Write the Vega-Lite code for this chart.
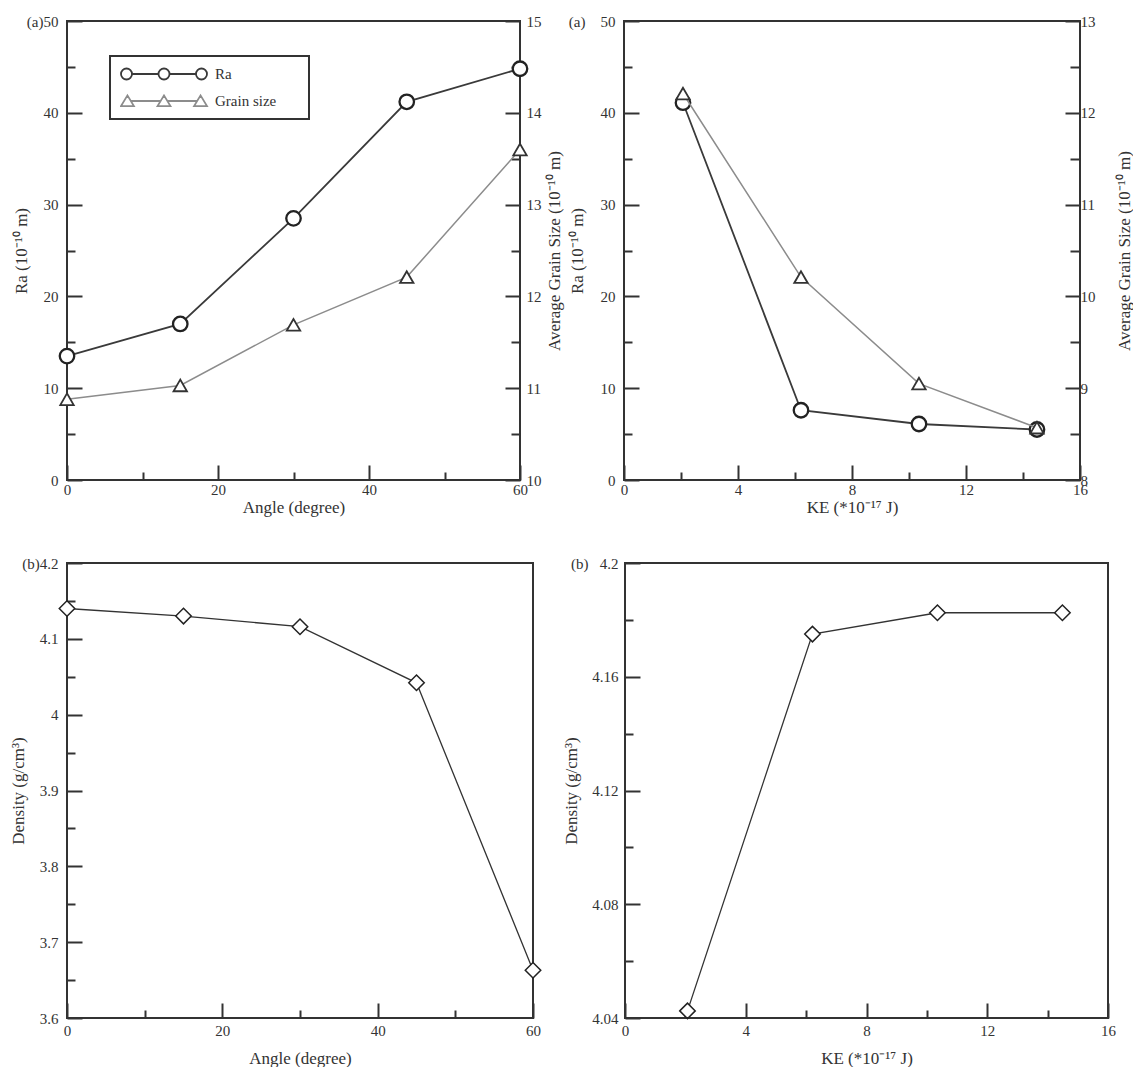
{
  "$schema": "https://vega.github.io/schema/vega-lite/v6.json",
  "background": "white",
  "padding": {"left": 8, "top": 13, "right": 0, "bottom": 0},
  "spacing": 39,
  "config": {
    "view": {"stroke": "#333", "strokeWidth": 2},
    "axis": {
      "domain": false, "grid": false, "zindex": 1,
      "labelFont": "Liberation Serif", "labelFontSize": 15, "labelColor": "#333",
      "titleFont": "Liberation Serif", "titleFontSize": 17, "titleFontWeight": "normal", "titleColor": "#333",
      "tickColor": "#333", "tickWidth": 2, "tickSize": -15,
      "labelOverlap": false, "labelFlush": false, "labelBound": false
    },
    "legend": {
      "title": null, "clipHeight": 16,
      "symbolSize": 7396, "symbolStrokeWidth": 1.8, "symbolStrokeColor": "#333",
      "labelFont": "Liberation Serif", "labelFontSize": 15, "labelColor": "#333", "labelOffset": 7,
      "padding": 10, "rowPadding": 11, "strokeColor": "#333", "fillColor": "white"
    }
  },
  "vconcat": [
    {
      "spacing": 4,
      "hconcat": [
        {
          "width": 453, "height": 459,
          "data": {"values": [
            {"x": 0, "s": "Ra", "v": 13.5}, {"x": 15, "s": "Ra", "v": 17.0}, {"x": 30, "s": "Ra", "v": 28.5}, {"x": 45, "s": "Ra", "v": 41.2}, {"x": 60, "s": "Ra", "v": 44.8},
            {"x": 0, "s": "Grain size", "v": 10.88}, {"x": 15, "s": "Grain size", "v": 11.03}, {"x": 30, "s": "Grain size", "v": 11.69}, {"x": 45, "s": "Grain size", "v": 12.21}, {"x": 60, "s": "Grain size", "v": 13.6}
          ]},
          "resolve": {"scale": {"y": "independent"}, "axis": {"x": "independent", "y": "independent"}},
          "layer": [
            {
              "transform": [{"filter": "datum.s === 'Ra'"}],
              "mark": {"type": "line", "strokeWidth": 1.8},
              "encoding": {
                "x": {"field": "x", "type": "quantitative", "scale": {"domain": [0, 60], "nice": false, "zero": false},
                  "axis": {"orient": "bottom", "title": "Angle (degree)", "values": [0, 20, 40, 60], "labelPadding": 17, "titlePadding": 2}},
                "y": {"field": "v", "type": "quantitative", "scale": {"domain": [0, 50], "nice": false},
                  "axis": {"orient": "left", "title": "Ra (10⁻¹⁰ m)", "values": [0, 10, 20, 30, 40, 50],
                    "labelExpr": "datum.value === 50 ? '(a)50' : format(datum.value, 'd')", "labelPadding": 24, "titlePadding": -4}},
                "color": {"field": "s", "type": "nominal", "scale": {"domain": ["Ra", "Grain size"], "range": ["#3a3a3a", "#8c8c8c"]},
                  "legend": {"orient": "none", "legendX": 43, "legendY": 35,
                    "labelExpr": "datum.label + '\u2800\u2800'",
                    "encode": {
                      "symbols": {"update": {
                        "shape": {"signal": "datum.value === 'Ra' ? 'M -0.744 0 A 0.128 0.128 0 1 0 -1 0 A 0.128 0.128 0 1 0 -0.744 0 M -0.744 0 L -0.128 0 M 0.128 0 A 0.128 0.128 0 1 0 -0.128 0 A 0.128 0.128 0 1 0 0.128 0 M 0.128 0 L 0.744 0 M 1 0 A 0.128 0.128 0 1 0 0.744 0 A 0.128 0.128 0 1 0 1 0' : 'M -0.85 -0.13 L -1 0.12 L -0.7 0.12 Z M -0.772 0 L -0.078 0 M 0 -0.13 L -0.15 0.12 L 0.15 0.12 Z M 0.078 0 L 0.772 0 M 0.85 -0.13 L 0.7 0.12 L 1 0.12 Z'"},
                        "fill": {"value": "transparent"}
                      }},
                      "legend": {"update": {"strokeWidth": {"value": 2}}}
                    }}}
              }
            },
            {
              "transform": [{"filter": "datum.s === 'Ra'"}],
              "mark": {"type": "point", "shape": "circle", "size": 210, "filled": true, "fill": "white", "stroke": "#222", "strokeWidth": 2.3, "opacity": 1},
              "encoding": {
                "x": {"field": "x", "type": "quantitative", "axis": null},
                "y": {"field": "v", "type": "quantitative", "scale": {"domain": [0, 50], "nice": false}, "axis": null}
              }
            },
            {
              "transform": [{"filter": "datum.s === 'Ra'"}],
              "mark": {"type": "point", "opacity": 0, "size": 1},
              "encoding": {
                "x": {"field": "x", "type": "quantitative", "axis": {"orient": "bottom", "values": [10, 30, 50], "labels": false, "title": null, "tickSize": -8}},
                "y": {"field": "v", "type": "quantitative", "scale": {"domain": [0, 50], "nice": false},
                  "axis": {"orient": "left", "values": [5, 15, 25, 35, 45], "labels": false, "title": null, "tickSize": -8}}
              }
            },
            {
              "transform": [{"filter": "datum.s === 'Grain size'"}],
              "mark": {"type": "line", "strokeWidth": 1.5},
              "encoding": {
                "x": {"field": "x", "type": "quantitative", "axis": null},
                "y": {"field": "v", "type": "quantitative", "scale": {"domain": [10, 15], "nice": false, "zero": false},
                  "axis": {"orient": "right", "title": "Average Grain Size (10⁻¹⁰ m)", "titleAngle": 270, "titleBaseline": "top",
                    "values": [10, 11, 12, 13, 14, 15], "labelPadding": 21, "titlePadding": 5}},
                "color": {"field": "s", "type": "nominal"}
              }
            },
            {
              "transform": [{"filter": "datum.s === 'Grain size'"}],
              "mark": {"type": "point", "shape": "triangle-up", "size": 180, "filled": true, "fill": "white", "stroke": "#333", "strokeWidth": 1.8, "opacity": 1},
              "encoding": {
                "x": {"field": "x", "type": "quantitative", "axis": null},
                "y": {"field": "v", "type": "quantitative", "scale": {"domain": [10, 15], "nice": false, "zero": false}, "axis": null}
              }
            },
            {
              "transform": [{"filter": "datum.s === 'Grain size'"}],
              "mark": {"type": "point", "opacity": 0, "size": 1},
              "encoding": {
                "x": {"field": "x", "type": "quantitative", "axis": null},
                "y": {"field": "v", "type": "quantitative", "scale": {"domain": [10, 15], "nice": false, "zero": false},
                  "axis": {"orient": "right", "values": [10.5, 11.5, 12.5, 13.5, 14.5], "labels": false, "title": null, "tickSize": -9}}
              }
            }
          ]
        },
        {
          "width": 456, "height": 459,
          "data": {"values": [
            {"x": 2.07, "s": "Ra", "v": 41.1}, {"x": 6.21, "s": "Ra", "v": 7.6}, {"x": 10.35, "s": "Ra", "v": 6.1}, {"x": 14.49, "s": "Ra", "v": 5.5},
            {"x": 2.07, "s": "Grain size", "v": 12.21}, {"x": 6.21, "s": "Grain size", "v": 10.21}, {"x": 10.35, "s": "Grain size", "v": 9.05}, {"x": 14.49, "s": "Grain size", "v": 8.57}
          ]},
          "resolve": {"scale": {"y": "independent"}, "axis": {"x": "independent", "y": "independent"}},
          "layer": [
            {
              "transform": [{"filter": "datum.s === 'Ra'"}],
              "mark": {"type": "line", "strokeWidth": 1.8},
              "encoding": {
                "x": {"field": "x", "type": "quantitative", "scale": {"domain": [0, 16], "nice": false, "zero": false},
                  "axis": {"orient": "bottom", "title": "KE (*10⁻¹⁷ J)", "values": [0, 4, 8, 12, 16], "labelPadding": 17, "titlePadding": 2}},
                "y": {"field": "v", "type": "quantitative", "scale": {"domain": [0, 50], "nice": false},
                  "axis": {"orient": "left", "title": "Ra (10⁻¹⁰ m)", "values": [0, 10, 20, 30, 40, 50],
                    "labelExpr": "datum.value === 50 ? '(a)\u00a0\u00a0\u00a0\u00a050' : format(datum.value, 'd')", "labelPadding": 24, "titlePadding": -18}},
                "color": {"field": "s", "type": "nominal", "scale": {"domain": ["Ra", "Grain size"], "range": ["#3a3a3a", "#8c8c8c"]},
                  "legend": {"orient": "none", "legendX": 182, "legendY": 63,
                    "labelExpr": "datum.label + '\u2800\u2800'",
                    "encode": {
                      "symbols": {"update": {
                        "shape": {"signal": "datum.value === 'Ra' ? 'M -0.744 0 A 0.128 0.128 0 1 0 -1 0 A 0.128 0.128 0 1 0 -0.744 0 M -0.744 0 L -0.128 0 M 0.128 0 A 0.128 0.128 0 1 0 -0.128 0 A 0.128 0.128 0 1 0 0.128 0 M 0.128 0 L 0.744 0 M 1 0 A 0.128 0.128 0 1 0 0.744 0 A 0.128 0.128 0 1 0 1 0' : 'M -0.85 -0.13 L -1 0.12 L -0.7 0.12 Z M -0.772 0 L -0.078 0 M 0 -0.13 L -0.15 0.12 L 0.15 0.12 Z M 0.078 0 L 0.772 0 M 0.85 -0.13 L 0.7 0.12 L 1 0.12 Z'"},
                        "fill": {"value": "transparent"}
                      }},
                      "legend": {"update": {"strokeWidth": {"value": 2}}}
                    }}}
              }
            },
            {
              "transform": [{"filter": "datum.s === 'Ra'"}],
              "mark": {"type": "point", "shape": "circle", "size": 210, "filled": true, "fill": "white", "stroke": "#222", "strokeWidth": 2.3, "opacity": 1},
              "encoding": {
                "x": {"field": "x", "type": "quantitative", "axis": null},
                "y": {"field": "v", "type": "quantitative", "scale": {"domain": [0, 50], "nice": false}, "axis": null}
              }
            },
            {
              "transform": [{"filter": "datum.s === 'Ra'"}],
              "mark": {"type": "point", "opacity": 0, "size": 1},
              "encoding": {
                "x": {"field": "x", "type": "quantitative", "axis": {"orient": "bottom", "values": [2, 6, 10, 14], "labels": false, "title": null, "tickSize": -8}},
                "y": {"field": "v", "type": "quantitative", "scale": {"domain": [0, 50], "nice": false},
                  "axis": {"orient": "left", "values": [5, 15, 25, 35, 45], "labels": false, "title": null, "tickSize": -8}}
              }
            },
            {
              "transform": [{"filter": "datum.s === 'Grain size'"}],
              "mark": {"type": "line", "strokeWidth": 1.5},
              "encoding": {
                "x": {"field": "x", "type": "quantitative", "axis": null},
                "y": {"field": "v", "type": "quantitative", "scale": {"domain": [8, 13], "nice": false, "zero": false},
                  "axis": {"orient": "right", "title": "Average Grain Size (10⁻¹⁰ m)", "titleAngle": 270, "titleBaseline": "top",
                    "values": [8, 9, 10, 11, 12, 13], "labelPadding": 15, "titlePadding": 21}},
                "color": {"field": "s", "type": "nominal"}
              }
            },
            {
              "transform": [{"filter": "datum.s === 'Grain size'"}],
              "mark": {"type": "point", "shape": "triangle-up", "size": 180, "filled": true, "fill": "white", "stroke": "#333", "strokeWidth": 1.8, "opacity": 1},
              "encoding": {
                "x": {"field": "x", "type": "quantitative", "axis": null},
                "y": {"field": "v", "type": "quantitative", "scale": {"domain": [8, 13], "nice": false, "zero": false}, "axis": null}
              }
            },
            {
              "transform": [{"filter": "datum.s === 'Grain size'"}],
              "mark": {"type": "point", "opacity": 0, "size": 1},
              "encoding": {
                "x": {"field": "x", "type": "quantitative", "axis": null},
                "y": {"field": "v", "type": "quantitative", "scale": {"domain": [8, 13], "nice": false, "zero": false},
                  "axis": {"orient": "right", "values": [8.5, 9.5, 10.5, 11.5, 12.5], "labels": false, "title": null, "tickSize": -10}}
              }
            }
          ]
        }
      ]
    },
    {
      "spacing": 16,
      "hconcat": [
        {
          "width": 466, "height": 455,
          "data": {"values": [
            {"x": 0, "v": 4.140}, {"x": 15, "v": 4.130}, {"x": 30, "v": 4.116}, {"x": 45, "v": 4.042}, {"x": 60, "v": 3.663}
          ]},
          "resolve": {"axis": {"x": "independent", "y": "independent"}},
          "layer": [
            {
              "mark": {"type": "line", "color": "#333", "strokeWidth": 1.3},
              "encoding": {
                "x": {"field": "x", "type": "quantitative", "scale": {"domain": [0, 60], "nice": false, "zero": false},
                  "axis": {"orient": "bottom", "title": "Angle (degree)", "values": [0, 20, 40, 60], "labelPadding": 20, "titlePadding": 12}},
                "y": {"field": "v", "type": "quantitative", "scale": {"domain": [3.6, 4.2], "nice": false, "zero": false},
                  "axis": {"orient": "left", "title": "Density (g/cm³)", "values": [3.6, 3.7, 3.8, 3.9, 4.0, 4.1, 4.2],
                    "labelExpr": "datum.value > 4.19 ? '(b)4.2' : format(datum.value, '.1~f')", "labelPadding": 24, "titlePadding": -6}}
              }
            },
            {
              "mark": {"type": "point", "shape": "diamond", "size": 240, "filled": true, "fill": "white", "stroke": "#222", "strokeWidth": 1.5, "opacity": 1},
              "encoding": {
                "x": {"field": "x", "type": "quantitative", "axis": null},
                "y": {"field": "v", "type": "quantitative", "axis": null}
              }
            },
            {
              "mark": {"type": "point", "opacity": 0, "size": 1},
              "encoding": {
                "x": {"field": "x", "type": "quantitative", "axis": {"orient": "bottom", "values": [10, 30, 50], "labels": false, "title": null, "tickSize": -8}},
                "y": {"field": "v", "type": "quantitative", "axis": {"orient": "left", "values": [3.65, 3.75, 3.85, 3.95, 4.05, 4.15], "labels": false, "title": null, "tickSize": -8}}
              }
            }
          ]
        },
        {
          "width": 483, "height": 455,
          "data": {"values": [
            {"x": 2.07, "v": 4.0425}, {"x": 6.21, "v": 4.175}, {"x": 10.35, "v": 4.1825}, {"x": 14.49, "v": 4.1825}
          ]},
          "resolve": {"axis": {"x": "independent", "y": "independent"}},
          "layer": [
            {
              "mark": {"type": "line", "color": "#333", "strokeWidth": 1.3},
              "encoding": {
                "x": {"field": "x", "type": "quantitative", "scale": {"domain": [0, 16], "nice": false, "zero": false},
                  "axis": {"orient": "bottom", "title": "KE (*10⁻¹⁷ J)", "values": [0, 4, 8, 12, 16], "labelPadding": 20, "titlePadding": 12}},
                "y": {"field": "v", "type": "quantitative", "scale": {"domain": [4.04, 4.2], "nice": false, "zero": false},
                  "axis": {"orient": "left", "title": "Density (g/cm³)", "values": [4.04, 4.08, 4.12, 4.16, 4.2],
                    "labelExpr": "datum.value > 4.19 ? '(b)\u00a0\u00a0\u00a04.2' : format(datum.value, '.2~f')", "labelPadding": 22, "titlePadding": -10}}
              }
            },
            {
              "mark": {"type": "point", "shape": "diamond", "size": 240, "filled": true, "fill": "white", "stroke": "#222", "strokeWidth": 1.5, "opacity": 1},
              "encoding": {
                "x": {"field": "x", "type": "quantitative", "axis": null},
                "y": {"field": "v", "type": "quantitative", "axis": null}
              }
            },
            {
              "mark": {"type": "point", "opacity": 0, "size": 1},
              "encoding": {
                "x": {"field": "x", "type": "quantitative", "axis": {"orient": "bottom", "values": [2, 6, 10, 14], "labels": false, "title": null, "tickSize": -8}},
                "y": {"field": "v", "type": "quantitative", "axis": {"orient": "left", "values": [4.06, 4.1, 4.14, 4.18], "labels": false, "title": null, "tickSize": -8}}
              }
            }
          ]
        }
      ]
    }
  ]
}
